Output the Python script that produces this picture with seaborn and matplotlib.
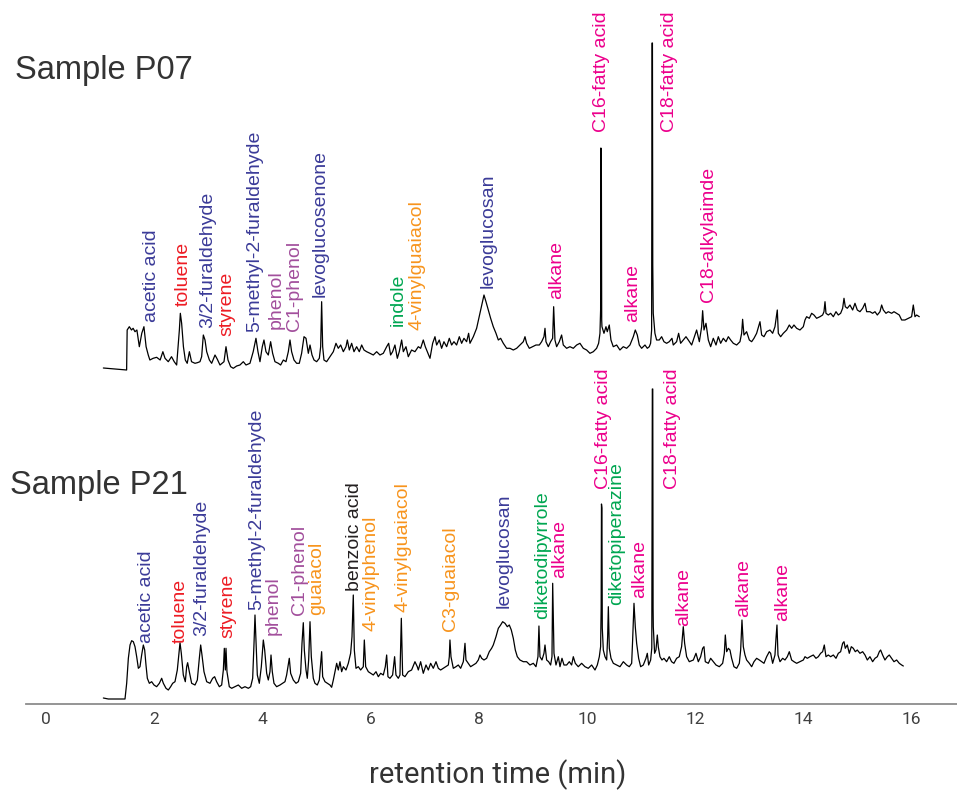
import matplotlib
matplotlib.use("Agg")
import matplotlib.pyplot as plt
import seaborn as sns
import pandas as pd

# ---------------- data ----------------
# retention time (min), intensity (a.u., relative to the trace start level)
P07_points = [
    (1.06, 2), (1.37, 0.5), (1.49, 0), (1.50, 40), (1.54, 43.3), (1.58, 40), (1.61, 41.7), (1.645, 38.3),
    (1.68, 40), (1.725, 23.3), (1.77, 36.7), (1.81, 43.3), (1.85, 23.3), (1.89, 15), (1.92, 10), (1.98, 11.7),
    (2.045, 12.7), (2.11, 10), (2.16, 18.3), (2.20, 11.7), (2.26, 8.3), (2.32, 13.3), (2.37, 8.3), (2.415, 5),
    (2.465, 40), (2.483, 56.7), (2.507, 46.7), (2.54, 23.3), (2.575, 10), (2.61, 6.7), (2.65, 18.3), (2.69, 8.3),
    (2.754, 6.7), (2.797, 7.3), (2.846, 8.3), (2.877, 13.3), (2.908, 35), (2.939, 30), (2.97, 18.3), (3.02, 10),
    (3.062, 6.7), (3.124, 15), (3.167, 10.7), (3.216, 5), (3.29, 8.3), (3.327, 23.3), (3.364, 10), (3.413, 3.3),
    (3.462, 1.7), (3.524, 4), (3.585, 5), (3.647, 8.3), (3.697, 5), (3.77, 6.7), (3.83, 18.3), (3.881, 31.7),
    (3.918, 18.3), (3.955, 8.3), (3.998, 23.3), (4.029, 30), (4.066, 18.3), (4.109, 15), (4.152, 28.3), (4.189, 16.7),
    (4.232, 8.3), (4.294, 6.7), (4.337, 5), (4.387, 10), (4.436, 8.3), (4.479, 18.3), (4.51, 30), (4.54, 18.3),
    (4.584, 10), (4.633, 6.7), (4.682, 6.7), (4.725, 16.7), (4.769, 33.3), (4.806, 31.7), (4.849, 16.7), (4.88, 25),
    (4.917, 15), (4.954, 10), (5.003, 8.3), (5.052, 11.7), (5.077, 23.3), (5.095, 68.3), (5.114, 23.3), (5.138, 10),
    (5.187, 8.3), (5.249, 13.3), (5.311, 18.3), (5.36, 26.7), (5.403, 21.7), (5.447, 25), (5.496, 18.3), (5.545, 23.3),
    (5.57, 30), (5.607, 20), (5.65, 26.7), (5.693, 18.3), (5.742, 23.3), (5.791, 18.3), (5.835, 25), (5.878, 20),
    (5.927, 18.3), (5.989, 16.7), (6.05, 15), (6.112, 18.3), (6.173, 15), (6.235, 16.7), (6.297, 23.3), (6.334, 26.7),
    (6.37, 15), (6.407, 18.3), (6.45, 25), (6.494, 11.7), (6.53, 18.3), (6.574, 30), (6.605, 18.3), (6.654, 23.3),
    (6.697, 13.3), (6.758, 20), (6.82, 18.3), (6.882, 23.3), (6.925, 21.7), (6.974, 30), (7.011, 23.3), (7.048, 18.3),
    (7.098, 11.7), (7.147, 26.7), (7.19, 33.3), (7.221, 25), (7.27, 30), (7.313, 21.7), (7.356, 28.3), (7.406, 23.3),
    (7.455, 31.7), (7.498, 25), (7.541, 28.3), (7.59, 25), (7.64, 33.3), (7.683, 26.7), (7.726, 31.7), (7.775, 28.3),
    (7.812, 36.7), (7.837, 26.7), (7.899, 33.3), (7.96, 41.7), (8.022, 56.7), (8.071, 68.3), (8.096, 75), (8.133, 68.3),
    (8.176, 60), (8.219, 51.7), (8.268, 43.3), (8.318, 36.7), (8.361, 30), (8.404, 31.7), (8.453, 26.7), (8.515, 21.7),
    (8.576, 21.7), (8.638, 20), (8.70, 21.7), (8.761, 25), (8.823, 28.3), (8.854, 33.3), (8.884, 26.7), (8.934, 21.7),
    (8.995, 23.3), (9.057, 25), (9.119, 25), (9.162, 28.3), (9.205, 33.3), (9.224, 41.7), (9.242, 28.3), (9.285, 23.3),
    (9.328, 28.3), (9.365, 31.7), (9.384, 63.3), (9.408, 30), (9.439, 23.3), (9.488, 28.3), (9.531, 35), (9.562, 25),
    (9.624, 21.7), (9.685, 23.3), (9.747, 21.7), (9.809, 25), (9.87, 26.7), (9.932, 21.7), (9.993, 20), (10.055, 16.7),
    (10.117, 18.3), (10.178, 21.7), (10.215, 26.7), (10.24, 36.7), (10.252, 60), (10.257, 222), (10.265, 220),
    (10.272, 50), (10.277, 43.3), (10.314, 36.7), (10.351, 43.3), (10.375, 38.3), (10.412, 45), (10.443, 30),
    (10.486, 23.3), (10.548, 25), (10.609, 20), (10.671, 23.3), (10.733, 21.7), (10.794, 25), (10.856, 33.3),
    (10.893, 40), (10.93, 35), (10.967, 25), (11.01, 21.7), (11.072, 25), (11.115, 21.7), (11.152, 23.3),
    (11.176, 26.7), (11.195, 40), (11.203, 327), (11.21, 327), (11.216, 105), (11.225, 56.7), (11.256, 36.7),
    (11.287, 30), (11.336, 30), (11.38, 33.3), (11.423, 28.3), (11.472, 26.7), (11.521, 28.3), (11.571, 31.7),
    (11.595, 25), (11.657, 28.3), (11.694, 36.7), (11.731, 26.7), (11.78, 30), (11.83, 33.3), (11.873, 30),
    (11.935, 25), (11.966, 30), (12.027, 40), (12.077, 28.3), (12.12, 43.3), (12.138, 59.3), (12.163, 40),
    (12.20, 46.7), (12.243, 30), (12.286, 23.3), (12.335, 31.7), (12.385, 25), (12.428, 33.3), (12.471, 26.7),
    (12.52, 31.7), (12.57, 28.3), (12.613, 33.3), (12.656, 30), (12.705, 26.7), (12.767, 25), (12.828, 28.3),
    (12.859, 36.7), (12.877, 50.7), (12.902, 35), (12.951, 38.3), (13.001, 30), (13.044, 28.3), (13.087, 31.7),
    (13.136, 36.7), (13.198, 48.3), (13.229, 35), (13.272, 33.3), (13.321, 38.3), (13.383, 40), (13.432, 36.7),
    (13.475, 43.3), (13.518, 60), (13.537, 36.7), (13.58, 33.3), (13.629, 36.7), (13.691, 40), (13.74, 45),
    (13.783, 41.7), (13.826, 45), (13.876, 41.7), (13.937, 40), (13.999, 43.3), (14.03, 50), (14.06, 53.3),
    (14.11, 51.7), (14.153, 56.7), (14.196, 55), (14.245, 51.7), (14.307, 53.3), (14.356, 55), (14.381, 58.3),
    (14.40, 68.3), (14.418, 56.7), (14.461, 55), (14.504, 56.7), (14.554, 53.3), (14.603, 58.3), (14.646, 55),
    (14.689, 56.7), (14.726, 61.7), (14.751, 71.7), (14.775, 63.3), (14.812, 61.7), (14.861, 65), (14.911, 60),
    (14.954, 66.7), (14.997, 60), (15.046, 58.3), (15.096, 61.7), (15.139, 66.7), (15.17, 58.3), (15.231, 58.3),
    (15.28, 56.7), (15.324, 58.3), (15.367, 55), (15.416, 58.3), (15.447, 65), (15.478, 60), (15.527, 56.7),
    (15.57, 58.3), (15.632, 56.7), (15.675, 58.3), (15.724, 56.7), (15.773, 55), (15.817, 50), (15.878, 50),
    (15.94, 51.7), (16.001, 53.3), (16.032, 65), (16.063, 53.3), (16.094, 55), (16.143, 53.3),
]

P21_points = [
    (1.06, 0), (1.152, -1), (1.46, -1), (1.491, 14.7), (1.522, 39.7), (1.553, 53), (1.583, 57.3), (1.614, 56.3),
    (1.645, 51.3), (1.676, 41.3), (1.707, 29.7), (1.737, 31.3), (1.768, 43), (1.799, 53), (1.824, 48), (1.848, 33),
    (1.873, 19.7), (1.91, 14.7), (1.953, 16.3), (1.996, 13), (2.045, 11.3), (2.095, 14.7), (2.138, 19.7), (2.169, 14.7),
    (2.218, 9.7), (2.261, 8), (2.304, 11.3), (2.341, 14.7), (2.384, 16.3), (2.427, 28), (2.458, 44.7), (2.477, 55.3),
    (2.501, 44.7), (2.538, 23), (2.575, 16.3), (2.60, 31.3), (2.618, 35.3), (2.649, 26.3), (2.692, 14.7), (2.754, 13),
    (2.797, 18), (2.834, 39.7), (2.859, 53), (2.883, 43), (2.92, 26.3), (2.97, 16.3), (3.031, 14.7), (3.08, 19.7),
    (3.117, 21.3), (3.154, 16.3), (3.204, 11.3), (3.247, 13), (3.278, 28), (3.296, 49.7), (3.315, 28), (3.327, 49.7),
    (3.345, 26.3), (3.388, 11.3), (3.432, 9.7), (3.493, 11.3), (3.555, 13), (3.617, 9.7), (3.678, 11.3), (3.74, 9.7),
    (3.783, 11.3), (3.82, 19.7), (3.845, 54.7), (3.863, 83), (3.881, 58), (3.906, 23), (3.943, 14.7), (3.98, 31.3),
    (4.017, 58), (4.042, 48), (4.079, 24.7), (4.109, 18), (4.14, 26.3), (4.159, 43), (4.183, 26.3), (4.214, 14.7),
    (4.263, 11.3), (4.325, 13), (4.374, 14.7), (4.417, 16.3), (4.448, 23), (4.497, 39.7), (4.522, 24.7), (4.571, 18),
    (4.621, 14.7), (4.664, 16.3), (4.707, 24.7), (4.732, 54.7), (4.756, 75.3), (4.775, 48), (4.806, 28), (4.83, 19.7),
    (4.855, 38), (4.88, 76.3), (4.904, 41.3), (4.941, 19.7), (4.972, 14.7), (5.015, 13), (5.052, 18), (5.077, 34.7),
    (5.095, 46.3), (5.114, 21.3), (5.157, 16.3), (5.20, 14.7), (5.249, 13), (5.28, 10.7), (5.311, 18), (5.342, 26.3),
    (5.373, 34.7), (5.403, 28), (5.434, 36.3), (5.465, 26.3), (5.496, 31.3), (5.545, 28), (5.588, 34.7), (5.631, 44.7),
    (5.656, 61.3), (5.68, 103), (5.699, 48), (5.73, 29.7), (5.773, 31.3), (5.816, 28), (5.865, 31.3), (5.884, 58),
    (5.909, 31.3), (5.958, 26.3), (6.001, 24.7), (6.05, 23), (6.10, 26.3), (6.143, 21.3), (6.186, 24.7), (6.235, 23),
    (6.272, 31.3), (6.297, 43), (6.321, 21.3), (6.358, 19.7), (6.407, 23), (6.444, 41.3), (6.469, 23), (6.512, 19.7),
    (6.543, 23), (6.568, 79.7), (6.592, 23), (6.635, 21.3), (6.697, 26.3), (6.758, 28), (6.82, 36.3), (6.863, 31.3),
    (6.882, 28), (6.925, 36.3), (6.974, 24.7), (7.024, 33), (7.067, 28), (7.11, 34.7), (7.159, 29.7), (7.209, 36.3),
    (7.252, 29.7), (7.295, 28), (7.344, 29.7), (7.393, 31.3), (7.437, 33), (7.455, 41.3), (7.467, 58), (7.486, 41.3),
    (7.529, 29.7), (7.578, 31.3), (7.621, 33), (7.665, 29.7), (7.714, 36.3), (7.745, 54.7), (7.763, 38), (7.806, 34.7),
    (7.849, 31.3), (7.899, 33), (7.948, 34.7), (7.991, 38), (8.022, 43), (8.053, 39.7), (8.096, 38), (8.145, 39.7),
    (8.194, 46.3), (8.237, 49.7), (8.268, 53), (8.318, 61.3), (8.361, 69.7), (8.404, 73), (8.441, 76.3), (8.484, 74.7),
    (8.527, 71.3), (8.564, 73), (8.601, 68), (8.638, 59.7), (8.675, 48), (8.712, 41.3), (8.761, 38), (8.823, 36.3),
    (8.884, 36.3), (8.946, 33), (9.008, 34.7), (9.057, 31.3), (9.094, 41.3), (9.112, 72), (9.131, 41.3), (9.168, 38),
    (9.205, 44.7), (9.224, 53), (9.254, 38), (9.291, 36.3), (9.328, 33), (9.353, 41.3), (9.366, 114.7), (9.39, 44.7),
    (9.427, 33), (9.47, 41.3), (9.501, 31.3), (9.538, 39.7), (9.575, 33), (9.624, 33), (9.673, 36.3), (9.716, 33),
    (9.747, 41.3), (9.784, 34.7), (9.839, 31.3), (9.901, 34.7), (9.963, 31.3), (10.024, 29.7), (10.086, 33),
    (10.148, 28), (10.191, 33), (10.228, 41.3), (10.252, 51.3), (10.262, 90), (10.268, 194), (10.276, 190),
    (10.283, 70), (10.302, 48), (10.333, 41.3), (10.364, 38), (10.382, 61.3), (10.395, 91.3), (10.413, 49.7),
    (10.444, 39.7), (10.487, 34.7), (10.549, 33), (10.61, 31.3), (10.672, 36.3), (10.733, 33), (10.782, 31.3),
    (10.826, 34.7), (10.844, 58), (10.869, 94.7), (10.893, 71.3), (10.918, 54.7), (10.955, 39.7), (10.992, 31.3),
    (11.041, 33), (11.09, 39.7), (11.115, 44.7), (11.14, 33), (11.177, 38), (11.198, 50), (11.205, 270),
    (11.208, 309), (11.216, 309), (11.222, 90), (11.226, 71.3), (11.25, 44.7), (11.275, 48), (11.30, 63),
    (11.318, 51.3), (11.349, 41.3), (11.386, 38), (11.423, 39.7), (11.472, 36.3), (11.521, 41.3), (11.564, 36.3),
    (11.607, 34.7), (11.657, 39.7), (11.706, 41.3), (11.749, 51.3), (11.78, 71.3), (11.805, 54.7), (11.842, 41.3),
    (11.891, 36.3), (11.966, 38), (12.015, 44.7), (12.058, 36.3), (12.101, 41.3), (12.138, 49.7), (12.163, 51.3),
    (12.187, 36.3), (12.243, 34.7), (12.286, 39.7), (12.335, 36.3), (12.385, 33), (12.446, 31.3), (12.508, 34.7),
    (12.539, 44.7), (12.557, 63), (12.582, 46.3), (12.613, 49.7), (12.643, 48), (12.674, 39.7), (12.717, 31.3),
    (12.767, 29.7), (12.816, 34.7), (12.841, 48), (12.865, 78), (12.89, 51.3), (12.921, 43), (12.951, 38),
    (13.001, 34.7), (13.044, 31.3), (13.087, 36.3), (13.136, 39.7), (13.186, 38), (13.229, 36.3), (13.272, 34.7),
    (13.321, 41.3), (13.37, 46.3), (13.395, 44.7), (13.432, 34.7), (13.475, 43), (13.494, 59.7), (13.512, 73),
    (13.531, 43), (13.568, 36.3), (13.617, 39.7), (13.66, 38), (13.703, 41.3), (13.74, 46.3), (13.783, 38),
    (13.826, 36.3), (13.876, 34.7), (13.937, 36.3), (13.999, 38), (14.03, 41.3), (14.073, 39.7), (14.122, 41.3),
    (14.184, 43), (14.233, 39.7), (14.276, 41.3), (14.319, 44.7), (14.356, 46.3), (14.387, 53), (14.418, 41.3),
    (14.461, 43), (14.504, 41.3), (14.554, 43), (14.603, 39.7), (14.646, 44.7), (14.689, 46.3), (14.726, 54.7),
    (14.751, 56.3), (14.775, 49.7), (14.812, 53), (14.849, 44.7), (14.886, 51.3), (14.923, 49.7), (14.96, 46.3),
    (14.997, 48), (15.046, 44.7), (15.096, 46.3), (15.139, 43), (15.182, 38), (15.231, 41.3), (15.28, 36.3),
    (15.324, 39.7), (15.367, 41.3), (15.404, 46.3), (15.428, 48), (15.465, 43), (15.508, 38), (15.552, 41.3),
    (15.588, 43), (15.632, 39.7), (15.675, 36.3), (15.724, 38), (15.773, 34.7), (15.817, 33), (15.848, 32),
]

# vertical stacking offsets of the two chromatograms
P07_offset = 334
P21_offset = 6

# compound annotations: (retention time, label baseline height, name, class)
P07_labels = [
    (1.95, 382, "acetic acid", "sugar"), (2.53, 398, "toluene", "arom"),
    (2.98, 376, "3/2-furaldehyde", "sugar"), (3.34, 368, "styrene", "arom"),
    (3.85, 372, "5-methyl-2-furaldehyde", "sugar"), (4.25, 375, "phenol", "phenol"),
    (4.60, 373, "C1-phenol", "phenol"), (5.06, 407, "levoglucosenone", "sugar"),
    (6.51, 378, "indole", "N"), (6.85, 374, "4-vinylguaiacol", "lignin"),
    (8.17, 416, "levoglucosan", "sugar"), (9.44, 405, "alkane", "lipid"),
    (10.27, 572, "C16-fatty acid", "lipid"), (10.85, 382, "alkane", "lipid"),
    (11.52, 572, "C18-fatty acid", "lipid"), (12.24, 402, "C18-alkylaimde", "lipid"),
]
P21_labels = [
    (1.86, 61, "acetic acid", "sugar"), (2.48, 61, "toluene", "arom"),
    (2.88, 68, "3/2-furaldehyde", "sugar"), (3.36, 66, "styrene", "arom"),
    (3.895, 94, "5-methyl-2-furaldehyde", "sugar"), (4.20, 69, "phenol", "phenol"),
    (4.695, 89, "C1-phenol", "phenol"), (5.01, 89, "guaiacol", "lignin"),
    (5.71, 113, "benzoic acid", "other"), (6.00, 73, "4-vinylphenol", "lignin"),
    (6.59, 92, "4-vinylguaiacol", "lignin"), (7.48, 73, "C3-guaiacol", "lignin"),
    (8.47, 96, "levoglucosan", "sugar"), (9.18, 85, "diketodipyrrole", "N"),
    (9.50, 126, "alkane", "lipid"), (10.30, 215, "C16-fatty acid", "lipid"),
    (10.55, 99, "diketopiperazine", "N"), (10.98, 106, "alkane", "lipid"),
    (11.58, 215, "C18-fatty acid", "lipid"), (11.78, 78, "alkane", "lipid"),
    (12.89, 87, "alkane", "lipid"), (13.62, 83, "alkane", "lipid"),
]
class_colors = {
    "sugar": "#3b3b98", "arom": "#ed1c24", "phenol": "#a24f9c",
    "lignin": "#f7941d", "N": "#00a651", "lipid": "#ec008c", "other": "#231f20",
}

x_ticks = [0, 2, 4, 6, 8, 10, 12, 14, 16]
x_label = "retention time (min)"
sample_names = ["Sample P07", "Sample P21"]

# ---------------- plot ----------------
sns.set_theme(style="white")
plt.rcParams["font.family"] = ["Liberation Sans", "DejaVu Sans"]

W, H = 957, 794
fig = plt.figure(figsize=(W / 100, H / 100), dpi=100)
ax = fig.add_axes([26 / W, 90 / H, 931 / W, 704 / H])

frames = []
for name, pts, off in [("P07", P07_points, P07_offset), ("P21", P21_points, P21_offset)]:
    df = pd.DataFrame(pts, columns=["time", "intensity"])
    df["signal"] = df["intensity"] + off
    df["sample"] = name
    frames.append(df)

for df in frames:
    sns.lineplot(data=df, x="time", y="signal", ax=ax, color="black", lw=0.9,
                 sort=False, estimator=None)

for labels in (P07_labels, P21_labels):
    for t, y, txt, cls in labels:
        ax.text(t, y, txt, rotation=90, ha="center", va="bottom",
                fontsize=14, color=class_colors[cls])

ax.set_xlim(-0.37, 16.84)
ax.set_ylim(0, 704)
for s in ["left", "right", "top"]:
    ax.spines[s].set_visible(False)
ax.spines["bottom"].set_color("#8c8c8c")
ax.spines["bottom"].set_linewidth(1.3)
ax.set_yticks([])
ax.set_xticks(x_ticks)
ax.set_xticklabels([str(v) for v in x_ticks],
                   fontfamily=["Liberation Sans Narrow", "Roboto", "DejaVu Sans"],
                   fontsize=12.5, color="#404040")
ax.tick_params(axis="x", length=0, pad=6)
ax.set_xlabel("")
ax.set_ylabel("")

fig.text(498 / W, 1 - 775 / H, x_label, ha="center", va="center",
         fontsize=21, color="#333333",
         fontfamily=["Liberation Sans Narrow", "Roboto", "DejaVu Sans"])

fig.text(15 / W, 1 - 79 / H, sample_names[0], ha="left", va="baseline",
         fontsize=23.5, color="#333333")
fig.text(10 / W, 1 - 494 / H, sample_names[1], ha="left", va="baseline",
         fontsize=23.5, color="#333333")

fig.savefig("out.png", dpi=100)
